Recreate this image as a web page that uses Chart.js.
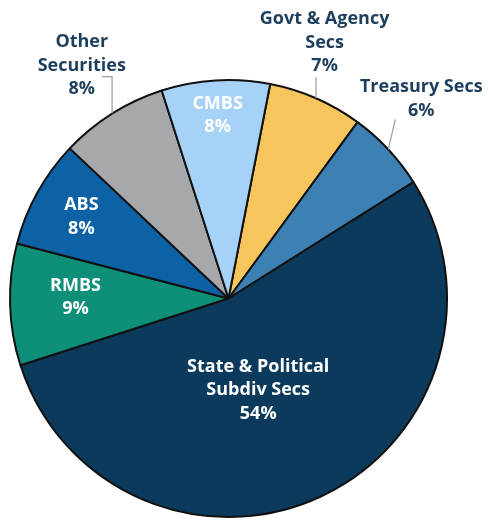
<!DOCTYPE html>
<html>
<head>
<meta charset="utf-8">
<script src="https://cdn.jsdelivr.net/npm/chart.js@4.4.1/dist/chart.umd.min.js"></script>
<style>
  html, body { margin:0; padding:0; background:#ffffff; }
  #wrap { width:488px; height:520px; }
</style>
</head>
<body>
<div id="wrap"><canvas id="pie" width="488" height="520"></canvas></div>
<script>
// ======================================================
// Portfolio mix
// ======================================================

const labels = [
    ["Govt & Agency", "Secs"],
    ["Treasury Secs"],
    ["State & Political", "Subdiv Secs"],
    ["RMBS"],
    ["ABS"],
    ["Other", "Securities"],
    ["CMBS"]
];

const shares = [7, 6, 54, 9, 8, 8, 8];

const colors = [
    "#f6c65d",
    "#3c80b4",
    "#0b3a5c",
    "#0e8f78",
    "#0d61a5",
    "#a6a8ab",
    "#a6d2f8"
];

// label placement: distance from centre (x radius), angle nudge (deg), inside?
const labelRadius = [1.25, 1.27, 0.44, 0.70, 0.77, 1.26, 0.84];
const labelNudge  = [-3, -3, 7, 2, 0, 0, 0];
const labelInside = [false, false, true, true, true, false, true];

// leader line for outside labels: [rise, dx, tick]
const leaders = [
    [21, 0, 0],
    [30, 7, 0],
    null,
    null,
    null,
    [37, 0, -10],
    null
];

// ======================================================
// Labels + leader lines
// ======================================================

const sliceLabels = {
    id: "sliceLabels",
    afterDatasetsDraw(chart) {
        const ctx = chart.ctx;
        const arcs = chart.getDatasetMeta(0).data;
        const lineH = 23.5;

        ctx.save();
        ctx.font = "bold 18px 'Open Sans', 'DejaVu Sans', sans-serif";
        ctx.textAlign = "center";
        ctx.textBaseline = "middle";

        arcs.forEach((arc, i) => {
            const { x, y, startAngle, endAngle, outerRadius } = arc.getProps(
                ["x", "y", "startAngle", "endAngle", "outerRadius"], true
            );
            const mid = (startAngle + endAngle) / 2;

            // leader
            if (leaders[i]) {
                const [rise, dx, tick] = leaders[i];
                const ex = x + Math.cos(mid) * outerRadius;
                const ey = y + Math.sin(mid) * outerRadius;
                ctx.strokeStyle = "#9a9a9a";
                ctx.lineWidth = 1.2;
                ctx.beginPath();
                ctx.moveTo(ex, ey);
                ctx.lineTo(ex + dx, ey - rise);
                if (tick) ctx.lineTo(ex + dx + tick, ey - rise);
                ctx.stroke();
            }

            const a = mid + labelNudge[i] * Math.PI / 180;
            const r = outerRadius * labelRadius[i];
            const cx = x + Math.cos(a) * r;
            const cy = y + Math.sin(a) * r;

            const lines = labels[i].concat([shares[i] + "%"]);
            const top = cy - (lines.length - 1) * lineH / 2;

            ctx.fillStyle = labelInside[i] ? "#ffffff" : "#1d3f5e";
            lines.forEach((t, k) => ctx.fillText(t, cx, top + k * lineH));
        });

        ctx.restore();
    }
};

// ======================================================
// Pie
// ======================================================

new Chart(

    document.getElementById("pie"),

    {

        type:"pie",

        data:{

            labels:labels.map(l => l.join(" ")),

            datasets:[

                {

                    data:shares,

                    backgroundColor:colors,

                    borderColor:"#111111",

                    borderWidth:2

                }

            ]

        },

        options:{

            responsive:false,

            animation:false,

            rotation:11,

            layout:{

                padding:{ top:79, bottom:2, left:9, right:40 }

            },

            plugins:{

                legend:{ display:false },

                tooltip:{ enabled:false }

            }

        },

        plugins:[sliceLabels]

    }

);
</script>
</body>
</html>
